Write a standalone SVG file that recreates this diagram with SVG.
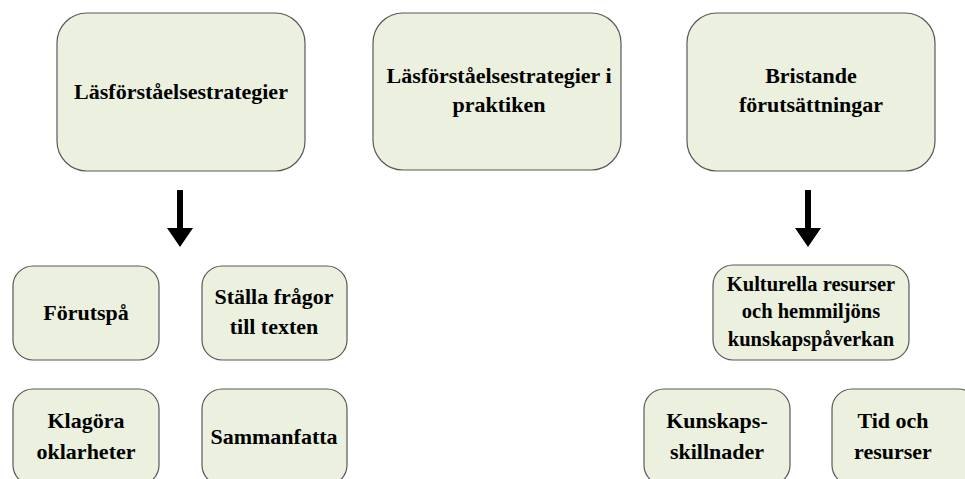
<svg xmlns="http://www.w3.org/2000/svg" width="965" height="479" viewBox="0 0 965 479">
<style>
.box{fill:#ebf1de;stroke:#595959;stroke-width:1.2}
.t{font-family:"Liberation Serif","Times New Roman",serif;font-weight:bold;font-size:22px;fill:#000;text-anchor:middle}
.s{font-size:20.5px}
.arrow{fill:#000}
</style>
<rect width="965" height="479" fill="#fff"/>
<g id="n1"><rect class="box" x="57" y="13" width="248" height="158" rx="30"/><text class="t" x="181" y="99">Läsförståelsestrategier</text></g>
<g id="n2"><rect class="box" x="373" y="13" width="248" height="157" rx="30"/><text class="t" x="499" y="83">Läsförståelsestrategier i</text><text class="t" x="499" y="112">praktiken</text></g>
<g id="n3"><rect class="box" x="687" y="13" width="248" height="158" rx="30"/><text class="t" x="811" y="83">Bristande</text><text class="t" x="811" y="112">förutsättningar</text></g>
<g id="n4"><rect class="box" x="13" y="266" width="146" height="94" rx="20"/><text class="t" x="86" y="320">Förutspå</text></g>
<g id="n5"><rect class="box" x="202" y="266" width="145" height="94" rx="20"/><text class="t" x="274" y="304">Ställa frågor</text><text class="t" x="274" y="334">till texten</text></g>
<g id="n6"><rect class="box" x="13" y="389" width="146" height="96" rx="20"/><text class="t" x="86" y="428">Klagöra</text><text class="t" x="86" y="459">oklarheter</text></g>
<g id="n7"><rect class="box" x="202" y="389" width="145" height="96" rx="20"/><text class="t" x="274" y="444">Sammanfatta</text></g>
<g id="n8"><rect class="box" x="713" y="265" width="196" height="95" rx="20"/><text class="t s" x="811" y="291">Kulturella resurser</text><text class="t s" x="811" y="318">och hemmiljöns</text><text class="t s" x="811" y="346">kunskapspåverkan</text></g>
<g id="n9"><rect class="box" x="644" y="389" width="146" height="96" rx="20"/><text class="t" x="717" y="428">Kunskaps-</text><text class="t" x="717" y="459">skillnader</text></g>
<g id="n10"><rect class="box" x="832" y="389" width="146" height="96" rx="20"/><text class="t" x="893" y="428">Tid och</text><text class="t" x="893" y="459">resurser</text></g>
<g id="connectors">
<path class="arrow" d="M177,190 H183 V228 H193 L180,247 L167,228 H177 Z"/>
<path class="arrow" d="M805,190 H811 V228 H821 L808,247 L795,228 H805 Z"/>
</g>
</svg>
